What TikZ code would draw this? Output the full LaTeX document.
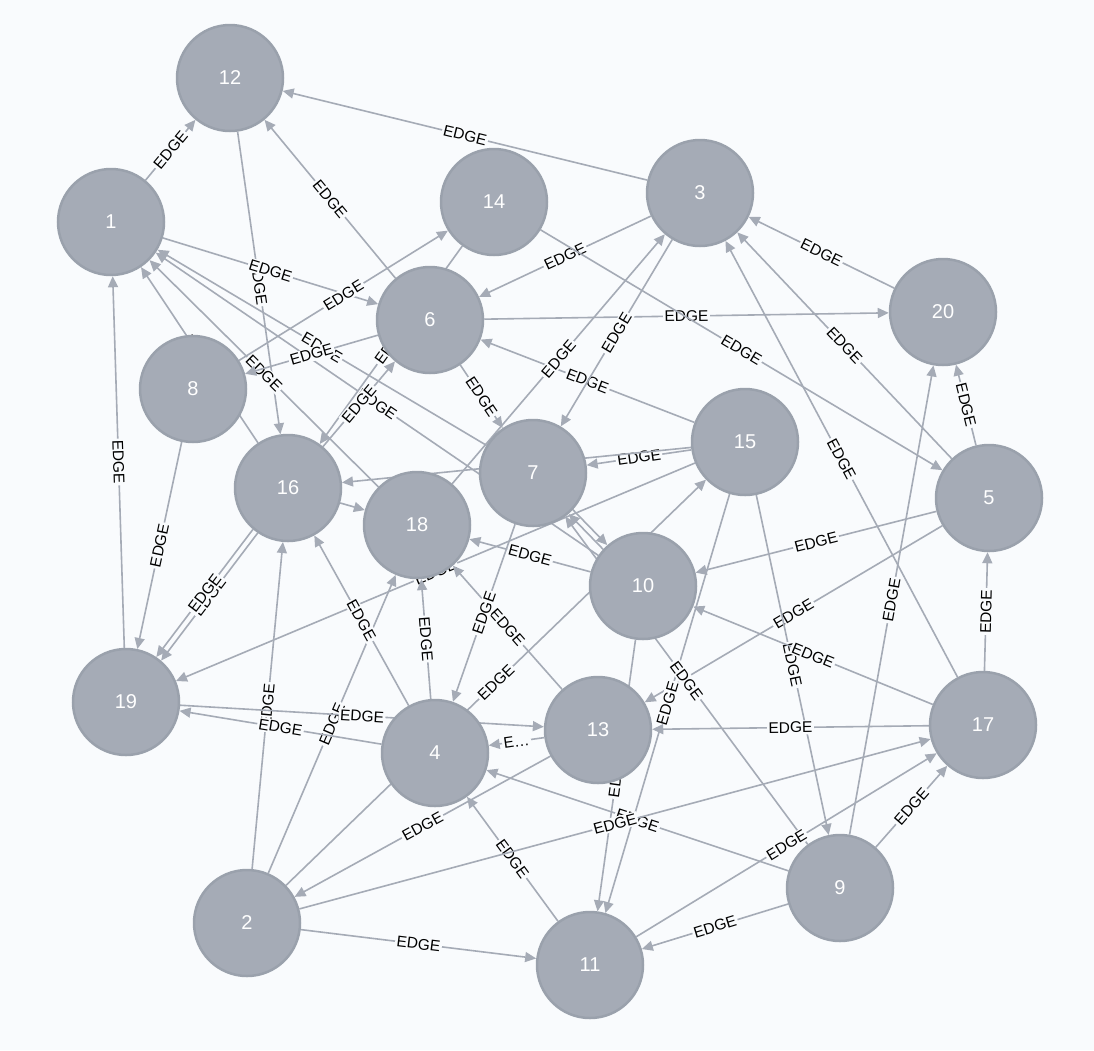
\documentclass[tikz,border=0pt]{standalone}
\usepackage{fontspec}
\setsansfont{Liberation Sans}
\usetikzlibrary{arrows.meta, backgrounds}
\definecolor{canvas}{HTML}{F9FBFD}
\definecolor{nodefill}{HTML}{A5ABB6}
\definecolor{nodeline}{HTML}{9AA1AC}
\definecolor{relline}{HTML}{A5ABB6}

\begin{document}
\begin{tikzpicture}[
      x=1pt, y=-1pt,
      every node/.style={font=\sffamily},
      vertex/.style={circle, fill=nodefill, draw=nodeline, line width=2.5pt,
                     minimum size=106pt, inner sep=0pt, text=white,
                     font=\sffamily\fontsize{20}{20}\selectfont},
      rel/.style={-{Triangle[length=11pt, width=10pt]}, draw=relline, line width=1.6pt},
      lbl/.style={sloped, fill=canvas, inner sep=1.5pt, text=black,
                  font=\sffamily\fontsize{15.5}{15.5}\selectfont},
      upper/.style={transform canvas={shift={(#1)}}},
    ]
    \useasboundingbox (0,0) rectangle (1094,1050);

    \node[vertex] (n12) at (230,78)  {12};
    \node[vertex] (n1)  at (111,222) {1};
    \node[vertex] (n14) at (494,202) {14};
    \node[vertex] (n3)  at (700,193) {3};
    \node[vertex] (n20) at (943,312) {20};
    \node[vertex] (n6)  at (430,320) {6};
    \node[vertex] (n8)  at (193,389) {8};
    \node[vertex] (n15) at (745,442) {15};
    \node[vertex] (n5)  at (989,498) {5};
    \node[vertex] (n16) at (288,488) {16};
    \node[vertex] (n7)  at (533,473) {7};
    \node[vertex] (n18) at (417,525) {18};
    \node[vertex] (n10) at (643,586) {10};
    \node[vertex] (n19) at (126,702) {19};
    \node[vertex] (n4)  at (435,753) {4};
    \node[vertex] (n13) at (598,730) {13};
    \node[vertex] (n17) at (983,725) {17};
    \node[vertex] (n2)  at (247,923) {2};
    \node[vertex] (n11) at (590,965) {11};
    \node[vertex] (n9)  at (840,888) {9};

    \begin{scope}[on background layer]
    \fill[canvas] (0,0) rectangle (1094,1050);

    \draw[rel] (n1)  -- node[lbl] {EDGE} (n12);
    \draw[rel] (n3)  -- node[lbl] {EDGE} (n12);
    \draw[rel] (n6)  -- node[lbl] {EDGE} (n12);
    \draw[rel] (n12) -- node[lbl] {EDGE} (n16);
    \draw[rel] (n1)  -- node[lbl] {EDGE} (n6);
    \draw[rel] (n19) -- node[lbl] {EDGE} (n1);
    \draw[rel] (n16) -- node[lbl] {EDGE} (n1);
    \draw[rel] (n18) -- node[lbl] {EDGE} (n1);
    \draw[rel] (n7)  -- node[lbl] {EDGE} (n1);
    \draw[rel] (n10) -- node[lbl] {EDGE} (n1);

    \draw[rel] (n8)  -- node[lbl] {EDGE} (n14);
    \draw[rel] (n6)  -- node[lbl] {EDGE} (n8);
    \draw[rel] (n8)  -- node[lbl] {EDGE} (n19);
    \draw[rel] (n14) -- node[lbl] {EDGE} (n16);
    \draw[rel] (n16) -- node[lbl] {EDGE} (n6);
    \draw[rel] (n3)  -- node[lbl] {EDGE} (n6);
    \draw[rel] (n6)  -- node[lbl] {EDGE} (n20);
    \draw[rel] (n6)  -- node[lbl] {EDGE} (n7);
    \draw[rel] (n15) -- node[lbl] {EDGE} (n6);

    \draw[rel] (n18) -- node[lbl] {EDGE} (n3);
    \draw[rel] (n3)  -- node[lbl] {EDGE} (n7);
    \draw[rel] (n14) -- node[lbl] {EDGE} (n5);
    \draw[rel] (n20) -- node[lbl] {EDGE} (n3);
    \draw[rel] (n5)  -- node[lbl] {EDGE} (n3);
    \draw[rel] (n17) -- node[lbl] {EDGE} (n3);
    \draw[rel] (n5)  -- node[lbl] {EDGE} (n20);
    \draw[rel] (n9)  -- node[lbl] {EDGE} (n20);
    \draw[rel] (n5)  -- node[lbl] {EDGE} (n10);
    \draw[rel] (n5)  -- node[lbl] {EDGE} (n13);
    \draw[rel] (n17) -- node[lbl] {EDGE} (n5);

    \draw[rel] (n15) -- node[lbl] {EDGE} (n7);
    \draw[rel] (n15) -- node[lbl] {EDGE} (n16);
    \draw[rel] (n15) -- node[lbl] {EDGE} (n19);
    \draw[rel] (n2)  -- node[lbl] {EDGE} (n15);
    \draw[rel] (n15) -- node[lbl] {EDGE} (n11);
    \draw[rel] (n15) -- node[lbl] {EDGE} (n9);
    \draw[rel, upper={2.1pt,2.1pt}]   (n7)  -- (n10);
    \draw[rel, upper={-2.1pt,-2.1pt}] (n10) -- (n7);
    \draw[rel] (n9)  -- node[lbl] {EDGE} (n7);
    \draw[rel] (n10) -- node[lbl] {EDGE} (n18);
    \draw[rel] (n13) -- node[lbl] {EDGE} (n18);
    \draw[rel] (n16) -- (n18);
    \draw[rel] (n10) -- node[lbl] {EDGE} (n11);

    \draw[rel] (n2)  -- node[lbl] {EDGE} (n16);
    \draw[rel] (n2)  -- node[lbl] {EDGE} (n18);
    \draw[rel] (n4)  -- node[lbl] {EDGE} (n16);
    \draw[rel] (n4)  -- node[lbl] {EDGE} (n18);
    \draw[rel] (n7)  -- node[lbl] {EDGE} (n4);
    \draw[rel] (n13) -- node[lbl] {E…} (n4);
    \draw[rel] (n9)  -- node[lbl] {EDGE} (n4);
    \draw[rel] (n11) -- node[lbl] {EDGE} (n4);
    \draw[rel] (n4)  -- node[lbl] {EDGE} (n19);
    \draw[rel] (n19) -- node[lbl] {EDGE} (n13);
    \draw[rel] (n13) -- node[lbl] {EDGE} (n2);

    \draw[rel] (n2)  -- node[lbl] {EDGE} (n17);
    \draw[rel] (n2)  -- node[lbl] {EDGE} (n11);
    \draw[rel] (n11) -- node[lbl] {EDGE} (n17);
    \draw[rel] (n9)  -- node[lbl] {EDGE} (n17);
    \draw[rel] (n9)  -- node[lbl] {EDGE} (n11);
    \draw[rel] (n17) -- node[lbl] {EDGE} (n10);
    \draw[rel] (n17) -- node[lbl] {EDGE} (n13);
    \draw[rel, upper={2.4pt,-1.8pt}]  (n16) -- node[lbl] {EDGE} (n19);
    \draw[rel, upper={-2.4pt,1.8pt}]  (n16) -- node[lbl] {EDGE} (n19);
    \end{scope}
  \end{tikzpicture}
\end{document}
